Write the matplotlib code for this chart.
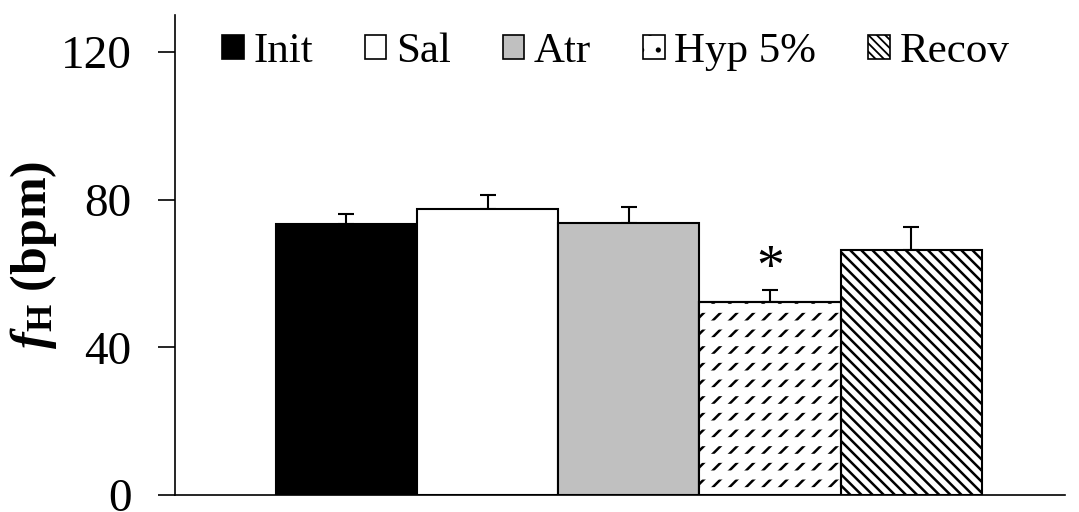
import numpy as np
import matplotlib
matplotlib.use('Agg')
import matplotlib.pyplot as plt
from matplotlib.patches import Patch

plt.rcParams['font.family'] = 'Liberation Serif'
plt.rcParams['mathtext.fontset'] = 'custom'
plt.rcParams['mathtext.rm'] = 'Liberation Serif'
plt.rcParams['mathtext.bf'] = 'Liberation Serif:bold'
plt.rcParams['mathtext.it'] = 'Liberation Serif:italic'
plt.rcParams['mathtext.bfit'] = 'Liberation Serif:italic:bold'
plt.rcParams['hatch.linewidth'] = 1.8

labels = ['Init', 'Sal', 'Atr', 'Hyp 5%', 'Recov']
means = [73.4, 77.5, 73.7, 52.3, 66.4]
errs = [2.8, 3.8, 4.4, 3.2, 6.2]

colors = ['black', 'white', '#c0c0c0', 'white', 'white']
hatches = [None, None, None, '//', '\\\\\\']

fig = plt.figure(figsize=(10.79, 5.12), dpi=100)
ax = fig.add_axes([0.162, 0.033, 0.825, 0.938])

x = np.arange(len(labels))
bars = ax.bar(x, means, width=1.0, color=colors, edgecolor='black',
              linewidth=1.5, zorder=2)
for b, h in zip(bars, hatches):
    if h:
        b.set_hatch(h)

# break the diagonal hatch of the hypoxia bar into dashes
with plt.rc_context({'hatch.linewidth': 6.5}):
    cut = ax.bar(x[3], means[3], width=1.0, fill=False, edgecolor='white',
                 linewidth=0, hatch='-', zorder=3)
for p in cut:
    if hasattr(p, 'set_hatch_linewidth'):
        p.set_hatch_linewidth(6.5)
ax.bar(x[3], means[3], width=1.0, fill=False, edgecolor='black',
       linewidth=1.5, zorder=4)

ax.errorbar(x, means, yerr=[np.zeros(len(errs)), errs], fmt='none',
            ecolor='black', elinewidth=1.5, capsize=6, capthick=1.5, zorder=1)

ax.text(3, 54, '*', ha='center', va='bottom', fontsize=40)

ax.set_xlim(-1.216, 5.09)
ax.set_ylim(0, 130)
ax.set_yticks([0, 40, 80, 120])
ax.set_xticks([])
ax.tick_params(axis='y', labelsize=34, length=12, width=1.2, direction='out', pad=19)
ax.spines['top'].set_visible(False)
ax.spines['right'].set_visible(False)
ax.spines['left'].set_linewidth(1.2)
ax.spines['bottom'].set_linewidth(1.2)

ax.set_ylabel(r'$\mathbfit{f}_{\mathbf{H}}$ (bpm)', fontsize=36, fontweight='bold', labelpad=1)

leg_hatches = [None, None, None, '.', '\\\\\\\\']
handles = [Patch(facecolor=colors[i], edgecolor='black', linewidth=1.2, hatch=leg_hatches[i])
           for i in range(len(labels))]
with plt.rc_context({'hatch.linewidth': 1.3}):
    ax.legend(handles, labels, loc='center left', bbox_to_anchor=(0.053, 0.923), ncol=5,
              frameon=False, fontsize=31, handlelength=0.5, handleheight=0.5,
              handletextpad=0.23, columnspacing=1.2, borderpad=0, borderaxespad=0)

fig.savefig('out.png', dpi=100)
